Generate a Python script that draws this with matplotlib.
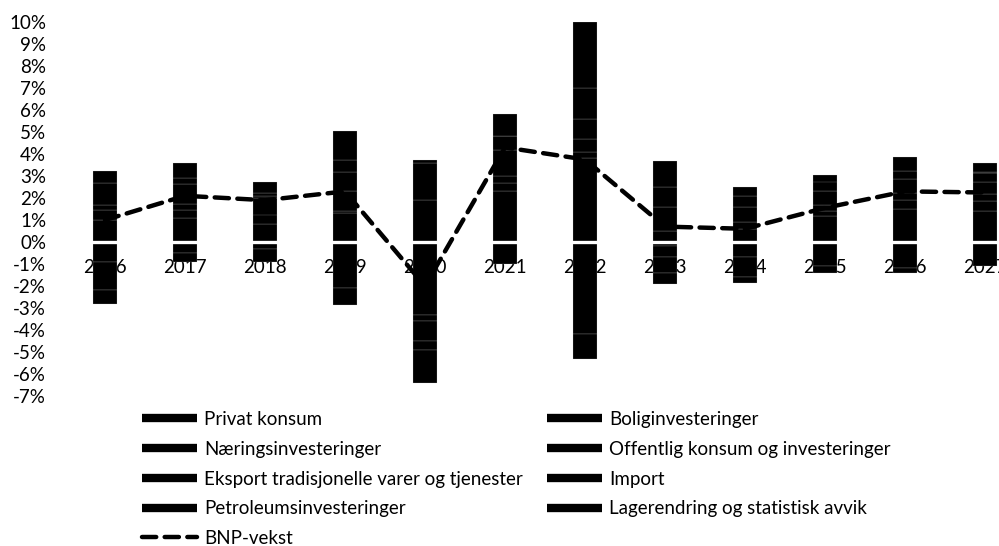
import numpy as np
import matplotlib
matplotlib.use('Agg')
import matplotlib.pyplot as plt
from matplotlib.lines import Line2D
from matplotlib.ticker import FuncFormatter

plt.rcParams['font.family'] = ['Lato', 'DejaVu Sans']
plt.rcParams['axes.unicode_minus'] = False

years = [2016, 2017, 2018, 2019, 2020, 2021, 2022, 2023, 2024, 2025, 2026, 2027]

# vekstbidrag, prosentpoeng
privat_konsum   = [1.0, 1.1, 0.8, 1.3, -3.3, 2.3, 3.8, -0.2, 0.6, 1.2, 1.5, 1.4]
bolig           = [0.45, 0.35, -0.3, 0.1, -0.3, 0.4, 0.3, -0.5, -0.7, 0.2, 0.4, 0.45]
naering         = [0.25, 0.3, 0.45, 0.9, -0.9, 0.3, 0.6, 0.5, 0.3, 0.3, 0.35, 0.35]
offentlig       = [1.0, 0.9, 0.75, 0.9, 1.9, 1.2, 0.9, 1.1, 0.7, 0.6, 0.6, 0.55]
eksport         = [0.55, 0.25, 0.1, 0.55, -0.4, 0.6, 1.4, 0.9, 0.5, 0.45, 0.4, 0.4]
importen        = [-0.9, -0.5, -0.6, -2.1, 1.7, -1.0, -4.2, -0.7, -0.9, -1.1, -1.2, -1.1]
petroleum       = [-1.3, -0.4, 0.15, 1.3, 0.15, 0.0, -1.1, 1.2, 0.4, 0.3, -0.2, 0.05]
lager           = [-0.6, 0.7, 0.5, -0.75, -1.5, 1.0, 3.0, -0.5, -0.25, -0.3, 0.6, 0.4]
bnp_vekst       = [1.0, 2.1, 1.9, 2.3, -2.0, 4.3, 3.75, 0.7, 0.6, 1.55, 2.3, 2.25]

serier = [
    ('Privat konsum', privat_konsum),
    ('Boliginvesteringer', bolig),
    ('Næringsinvesteringer', naering),
    ('Offentlig konsum og investeringer', offentlig),
    ('Eksport tradisjonelle varer og tjenester', eksport),
    ('Import', importen),
    ('Petroleumsinvesteringer', petroleum),
    ('Lagerendring og statistisk avvik', lager),
]

fs = 13.5
fig = plt.figure(figsize=(9.99, 5.46), dpi=100)
ax = fig.add_axes([65 / 999, 150 / 546, 960 / 999, 374 / 546])

x = np.arange(len(years))
pos_bunn = np.zeros(len(years))
neg_bunn = np.zeros(len(years))
for navn, verdier in serier:
    v = np.array(verdier)
    bunn = np.where(v >= 0, pos_bunn, neg_bunn)
    ax.bar(x, v, width=0.31, bottom=bunn, color='black',
           edgecolor='#d0d0d0', linewidth=0.15, zorder=2)
    pos_bunn += np.where(v >= 0, v, 0)
    neg_bunn += np.where(v < 0, v, 0)

ax.axhline(0, color='white', lw=2.4, zorder=2.5)
ax.plot(x, bnp_vekst, color='black', lw=3.2, linestyle=(0, (3.2, 1.9)),
        dash_capstyle='round', zorder=3)

# årstall ligger like under nullinjen, bak søylene
for i, ar in enumerate(years):
    ax.text(i, -1.15, str(ar), ha='center', va='center', fontsize=fs, zorder=1)

ax.set_xlim(-0.5, 11.5)
ax.set_ylim(-7, 10)
ax.set_xticks([])
ax.set_yticks(range(-7, 11))
ax.yaxis.set_major_formatter(FuncFormatter(lambda v, p: f'{v:.0f}%'))
ax.tick_params(axis='y', length=0, pad=13.5, labelsize=fs)
for s in ax.spines.values():
    s.set_visible(False)

handles = [Line2D([], [], color='black', lw=6, solid_capstyle='butt') for _ in serier]
handles.append(Line2D([], [], color='black', lw=3.2, linestyle=(0, (3.2, 1.9)),
                      dash_capstyle='round'))
labels = [n for n, _ in serier] + ['BNP-vekst']
rekkefolge = [0, 2, 4, 6, 8, 1, 3, 5, 7]
fig.legend([handles[i] for i in rekkefolge], [labels[i] for i in rekkefolge],
           loc='upper left', bbox_to_anchor=(142 / 999, 1 - 411 / 546),
           ncol=2, frameon=False, fontsize=fs, handlelength=2.95,
           handletextpad=0.35, columnspacing=1.3, labelspacing=0.68,
           borderpad=0, borderaxespad=0)

fig.savefig('out.png', dpi=100)
